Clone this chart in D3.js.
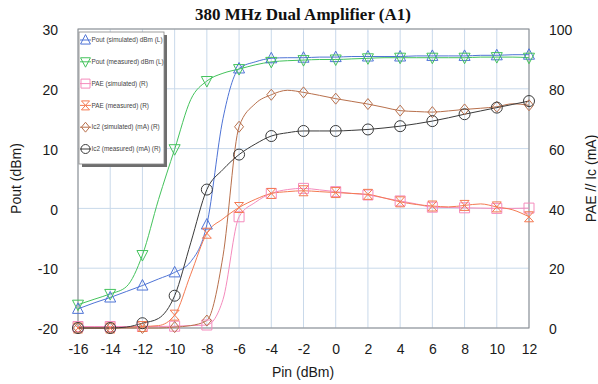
<!DOCTYPE html>
<html><head><meta charset="utf-8">
<script src="https://cdn.jsdelivr.net/npm/d3@7/dist/d3.min.js"></script>
<style>body{margin:0;background:#fff}svg{display:block}</style>
</head><body>
<svg id="c" width="598" height="384"></svg>
<script>
const pin = [-16,-15,-14,-13,-12,-11,-10,-9,-8,-7,-6,-5,-4,-3,-2,-1,0,1,2,3,4,5,6,7,8,9,10,11,12];
const xTicks = [-16,-14,-12,-10,-8,-6,-4,-2,0,2,4,6,8,10,12];
const yLeftTicks = [-20,-10,0,10,20,30];
const yRightTicks = [0,20,40,60,80,100];

const poutSim = [-16.8,-15.8,-14.9,-13.9,-12.9,-11.8,-10.7,-8.9,-2.7,15,23.4,24.5,25.1,25.2,25.2,25.3,25.3,25.4,25.4,25.4,25.4,25.5,25.5,25.5,25.5,25.6,25.6,25.7,25.7];
const poutMeas = [-16.1,-15.2,-14.3,-13.1,-7.8,1.5,9.9,18.2,21.3,22.6,23.3,24.0,24.5,24.7,24.8,24.9,24.9,25.0,25.1,25.2,25.2,25.2,25.2,25.2,25.2,25.3,25.3,25.3,25.2];
const paeSim = [0.5,0.5,0.5,0.5,0.5,0.5,0.6,0.8,1,9.5,37.2,42,45,46.3,46.7,46.2,45.6,45,44.5,43.5,42.5,41.5,40.4,40.3,40.2,40.1,40,40,40.1];
const paeMeas = [0,0,0,0.2,0.5,0.8,4.3,18,31.7,36.5,40.3,43,45,45.6,45.9,45.6,45.3,45,44.7,43.5,42.2,41.3,40.8,40.5,41,41.5,40.5,39.5,37.2];
const ic2Sim = [0,0,0,0,0,0,0.3,0.8,2.5,24,67.3,75,78,79.5,78.8,77.8,76.7,75.8,74.9,73.8,72.7,72.4,72.2,72.6,73.1,73.5,74,75,74.5];
const ic2Meas = [0,0,0,0.3,1.6,3.2,10.8,28.5,46.3,53,58,61.5,64.2,65.3,65.9,65.9,65.9,66.1,66.4,66.9,67.5,68.3,69.2,70.3,71.5,72.6,73.7,74.8,75.9];

const seriesNames = ["Pout (simulated) dBm (L)","Pout (measured) dBm (L)","PAE (simulated) (R)","PAE (measured) (R)","Ic2 (simulated) (mA) (R)","Ic2 (measured) (mA) (R)"];

const series = [
  {name:seriesNames[0], vals:poutSim, axis:"L", color:"#4f74d6", mk:"triUp"},
  {name:seriesNames[1], vals:poutMeas, axis:"L", color:"#44c35c", mk:"triDown"},
  {name:seriesNames[2], vals:paeSim, axis:"R", color:"#f58bbd", mk:"square"},
  {name:seriesNames[3], vals:paeMeas, axis:"R", color:"#f47a52", mk:"hour"},
  {name:seriesNames[4], vals:ic2Sim, axis:"R", color:"#b8704c", mk:"diamond"},
  {name:seriesNames[5], vals:ic2Meas, axis:"R", color:"#3a3a3a", mk:"circle"}
];

const svg = d3.select("#c");
const L=78, R=529, T=29, B=328;
const x = d3.scaleLinear().domain([-16,12]).range([L,R]);
const yL = d3.scaleLinear().domain([-20,30]).range([B,T]);
const yR = d3.scaleLinear().domain([0,100]).range([B,T]);
const fmt = d => String(d);

// grid
const g = svg.append("g");
g.selectAll(".vx").data(xTicks).join("line")
  .attr("x1",d=>x(d)).attr("x2",d=>x(d)).attr("y1",T).attr("y2",B)
  .attr("stroke","#c9d9ea").attr("stroke-width",1);
g.selectAll(".hy").data(yLeftTicks).join("line")
  .attr("x1",L).attr("x2",R).attr("y1",d=>yL(d)).attr("y2",d=>yL(d))
  .attr("stroke","#c9d9ea").attr("stroke-width",1);

// axes (labels only)
const font = "Arial, 'Liberation Sans', sans-serif";
const axB = svg.append("g").attr("transform",`translate(0,${B+16})`)
  .call(d3.axisBottom(x).tickValues(xTicks).tickSize(0).tickPadding(0).tickFormat(fmt));
const axLft = svg.append("g").attr("transform",`translate(${L-20},0)`)
  .call(d3.axisLeft(yL).tickValues(yLeftTicks).tickSize(0).tickPadding(0).tickFormat(fmt));
const axRt = svg.append("g").attr("transform",`translate(${R+20},0)`)
  .call(d3.axisRight(yR).tickValues(yRightTicks).tickSize(0).tickPadding(0).tickFormat(fmt));
[axB,axLft,axRt].forEach(a=>{
  a.select(".domain").remove();
  a.selectAll("text").attr("font-family",font).attr("font-size",14).attr("fill","#1a1a1a");
});
axLft.selectAll("text").attr("dy","0.4em");
axRt.selectAll("text").attr("dy","0.4em");

// plot border
svg.append("rect").attr("x",L).attr("y",T).attr("width",R-L).attr("height",B-T)
  .attr("fill","none").attr("stroke","#8a8a8a").attr("stroke-width",1);

// markers
function markerPath(type, s){
  switch(type){
    case "triUp": return `M0,${-s*0.6}L${s*0.55},${s*0.45}L${-s*0.55},${s*0.45}Z`;
    case "triDown": return `M0,${s*0.6}L${s*0.55},${-s*0.45}L${-s*0.55},${-s*0.45}Z`;
    case "square": return `M${-s/2},${-s/2}H${s/2}V${s/2}H${-s/2}Z`;
    case "hour": return `M${-s*0.45},${-s/2}H${s*0.45}L${-s*0.45},${s/2}H${s*0.45}Z`;
    case "diamond": return `M0,${-s*0.55}L${s*0.45},0L0,${s*0.55}L${-s*0.45},0Z`;
    case "circle": { const r=s/2; return `M${-r},0A${r},${r} 0 1,0 ${r},0A${r},${r} 0 1,0 ${-r},0Z`; }
  }
}

const plot = svg.append("g");
series.forEach(s=>{
  const yy = s.axis==="L" ? yL : yR;
  const line = d3.line().x((d,i)=>x(pin[i])).y(d=>yy(d)).curve(d3.curveMonotoneX);
  plot.append("path").datum(s.vals).attr("d",line)
    .attr("fill","none").attr("stroke",s.color).attr("stroke-width",1);
});
series.forEach(s=>{
  const yy = s.axis==="L" ? yL : yR;
  const pts = s.vals.map((v,i)=>({p:pin[i],v})).filter(d=>d.p%2===0);
  plot.selectAll(null).data(pts).join("path")
    .attr("transform",d=>`translate(${x(d.p)},${yy(d.v)})`)
    .attr("d",markerPath(s.mk, s.mk==="circle"?11:10))
    .attr("fill","none").attr("stroke",s.color).attr("stroke-width",1);
});

// legend
const lg = svg.append("g");
const lx=79, ly=32, lw=85, lh=132;
lg.append("rect").attr("x",lx+3).attr("y",ly+3).attr("width",lw).attr("height",lh).attr("fill","#6e6e6e");
lg.append("rect").attr("x",lx).attr("y",ly).attr("width",lw).attr("height",lh).attr("fill","#fff").attr("stroke","#888").attr("stroke-width",0.8);
series.forEach((s,i)=>{
  const cy = ly + 8 + i*21.8;
  lg.append("line").attr("x1",lx+1).attr("x2",lx+12).attr("y1",cy).attr("y2",cy).attr("stroke",s.color).attr("stroke-width",1);
  lg.append("path").attr("transform",`translate(${lx+6.5},${cy})`).attr("d",markerPath(s.mk,9))
    .attr("fill","none").attr("stroke",s.color).attr("stroke-width",1);
  lg.append("text").attr("x",lx+12.5).attr("y",cy).attr("dy","0.35em")
    .attr("font-family",font).attr("font-size",6.4).attr("fill","#444").text(s.name);
});

// titles
svg.append("text").attr("x",303).attr("y",20).attr("text-anchor","middle")
  .attr("font-family","'Liberation Serif','Times New Roman',serif").attr("font-weight","bold")
  .attr("font-size",17).attr("fill","#111").text("380 MHz Dual Amplifier (A1)");
svg.append("text").attr("x",303).attr("y",377).attr("text-anchor","middle")
  .attr("font-family",font).attr("font-size",14).attr("fill","#1a1a1a").text("Pin (dBm)");
svg.append("text").attr("transform",`translate(21,${(T+B)/2}) rotate(-90)`).attr("text-anchor","middle")
  .attr("font-family",font).attr("font-size",14).attr("fill","#1a1a1a").text("Pout (dBm)");
svg.append("text").attr("transform",`translate(596,${(T+B)/2}) rotate(-90)`).attr("text-anchor","middle")
  .attr("font-family",font).attr("font-size",14).attr("fill","#1a1a1a").text("PAE // Ic (mA)");
</script>
</body></html>
